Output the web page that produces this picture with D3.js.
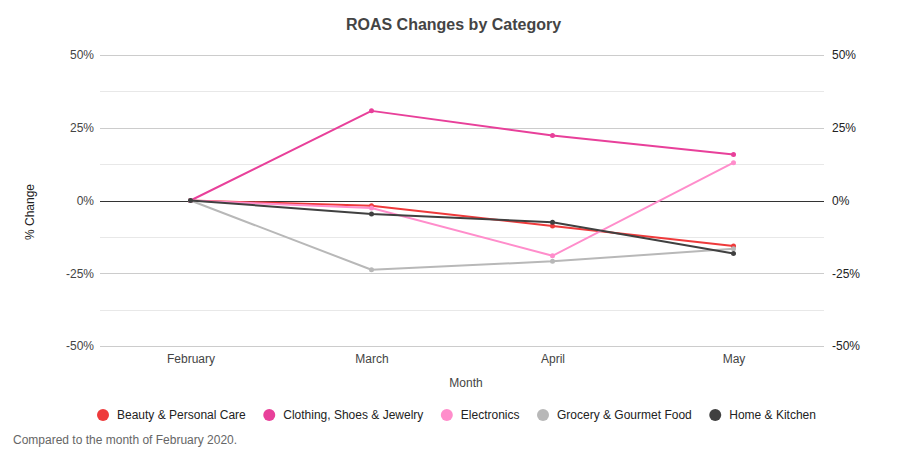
<!DOCTYPE html>
<html>
<head>
<meta charset="utf-8">
<script src="https://cdn.jsdelivr.net/npm/d3@7"></script>
<style>
  body { margin: 0; background: #fff; }
  text { font-family: "Liberation Sans", Arial, sans-serif; }
</style>
</head>
<body>
<div id="chart"></div>
<script>
// data (% change vs February)
const months = ["February", "March", "April", "May"];
const seriesNames = ["Beauty & Personal Care", "Clothing, Shoes & Jewelry", "Electronics", "Grocery & Gourmet Food", "Home & Kitchen"];
const beauty = [0, -1.8, -8.8, -15.6];
const clothing = [0, 30.8, 22.3, 15.8];
const electronics = [0, -2.6, -19.0, 13.0];
const grocery = [0, -23.8, -20.9, -16.6];
const home = [0, -4.6, -7.5, -18.2];
const yTicks = [-50, -25, 0, 25, 50];
const colors = ["#ee3a3b", "#e8409a", "#ff8dcb", "#b8b8b8", "#404040"];

const seriesValues = [beauty, clothing, electronics, grocery, home];

const width = 907, height = 460;
const margin = { left: 100, right: 83, top: 55, bottom: 114 };
const plotW = width - margin.left - margin.right;
const plotH = height - margin.top - margin.bottom;

const svg = d3.select("#chart").append("svg")
  .attr("width", width)
  .attr("height", height);

const x = d3.scalePoint()
  .domain(months)
  .range([margin.left, margin.left + plotW])
  .padding(0.5);

const y = d3.scaleLinear()
  .domain([-50, 50])
  .range([margin.top + plotH, margin.top]);

// minor gridlines
const minor = d3.range(-37.5, 50, 25);
svg.append("g").selectAll("line")
  .data(minor)
  .enter()
  .append("line")
  .attr("x1", margin.left)
  .attr("x2", margin.left + plotW)
  .attr("y1", d => Math.round(y(d)) + 0.5)
  .attr("y2", d => Math.round(y(d)) + 0.5)
  .style("stroke", "#e8e8e8");

// major gridlines
svg.append("g").selectAll("line")
  .data(yTicks.filter(d => d !== 0))
  .enter()
  .append("line")
  .attr("x1", margin.left)
  .attr("x2", margin.left + plotW)
  .attr("y1", d => Math.round(y(d)) + 0.5)
  .attr("y2", d => Math.round(y(d)) + 0.5)
  .style("stroke", "#cccccc");

// left and right axes (labels only)
const fmt = d => d + "%";
const leftAxis = svg.append("g")
  .attr("transform", "translate(" + margin.left + ",0)")
  .call(d3.axisLeft(y).tickValues(yTicks).tickFormat(fmt).tickSize(0).tickPadding(6));
const rightAxis = svg.append("g")
  .attr("transform", "translate(" + (margin.left + plotW) + ",0)")
  .call(d3.axisRight(y).tickValues(yTicks).tickFormat(fmt).tickSize(0).tickPadding(8));
[leftAxis, rightAxis].forEach(a => {
  a.select(".domain").remove();
  a.selectAll("text")
    .style("font-size", "12px")
    .style("font-family", "'Liberation Sans', Arial, sans-serif");
});
leftAxis.selectAll("text").style("fill", "#444");
rightAxis.selectAll("text").style("fill", "#222");

// x axis labels
const bottomAxis = svg.append("g")
  .attr("transform", "translate(0," + (margin.top + plotH) + ")")
  .call(d3.axisBottom(x).tickSize(0).tickPadding(8));
bottomAxis.select(".domain").remove();
bottomAxis.selectAll("text")
  .style("font-size", "12px")
  .style("font-family", "'Liberation Sans', Arial, sans-serif")
  .style("fill", "#444");

// zero baseline
svg.append("line")
  .attr("x1", margin.left)
  .attr("x2", margin.left + plotW)
  .attr("y1", Math.round(y(0)) + 0.5)
  .attr("y2", Math.round(y(0)) + 0.5)
  .style("stroke", "#333");

// series lines and points
const line = d3.line()
  .x((d, i) => x(months[i]))
  .y(d => y(d));

seriesValues.forEach((vals, s) => {
  const g = svg.append("g");
  g.append("path")
    .datum(vals)
    .attr("d", line)
    .style("fill", "none")
    .style("stroke", colors[s])
    .style("stroke-width", 2)
    .style("stroke-linejoin", "round");
  g.selectAll("circle")
    .data(vals)
    .enter()
    .append("circle")
    .attr("cx", (d, i) => x(months[i]))
    .attr("cy", d => y(d))
    .attr("r", 2.5)
    .style("fill", colors[s]);
});

// title
svg.append("text")
  .attr("x", width / 2)
  .attr("y", 30)
  .attr("text-anchor", "middle")
  .style("font-size", "16px")
  .style("font-weight", "bold")
  .style("fill", "#444")
  .text("ROAS Changes by Category");

// axis titles
svg.append("text")
  .attr("x", margin.left + plotW / 2 + 4)
  .attr("y", 387)
  .attr("text-anchor", "middle")
  .style("font-size", "12px")
  .style("fill", "#444")
  .text("Month");

svg.append("text")
  .attr("transform", "translate(34,212) rotate(-90)")
  .attr("text-anchor", "middle")
  .style("font-size", "12px")
  .style("fill", "#222")
  .text("% Change");

// legend
const legend = svg.append("g");
const items = legend.selectAll("g")
  .data(seriesNames)
  .enter()
  .append("g");
items.append("circle")
  .attr("r", 6)
  .attr("cy", 0)
  .style("fill", (d, i) => colors[i]);
items.append("text")
  .attr("x", 14)
  .attr("y", 4)
  .style("font-size", "12px")
  .style("fill", "#222")
  .text(d => d);

const gap = 23.5;
let offset = 0;
const positions = [];
items.each(function () {
  const w = d3.select(this).select("text").node().getComputedTextLength();
  positions.push(offset);
  offset += 14 + w + gap;
});
const startX = 103;
items.attr("transform", (d, i) => "translate(" + (startX + positions[i]) + ",415)");

// footnote
svg.append("text")
  .attr("x", 13)
  .attr("y", 444)
  .style("font-size", "12px")
  .style("fill", "#666")
  .text("Compared to the month of February 2020.");
</script>
</body>
</html>
